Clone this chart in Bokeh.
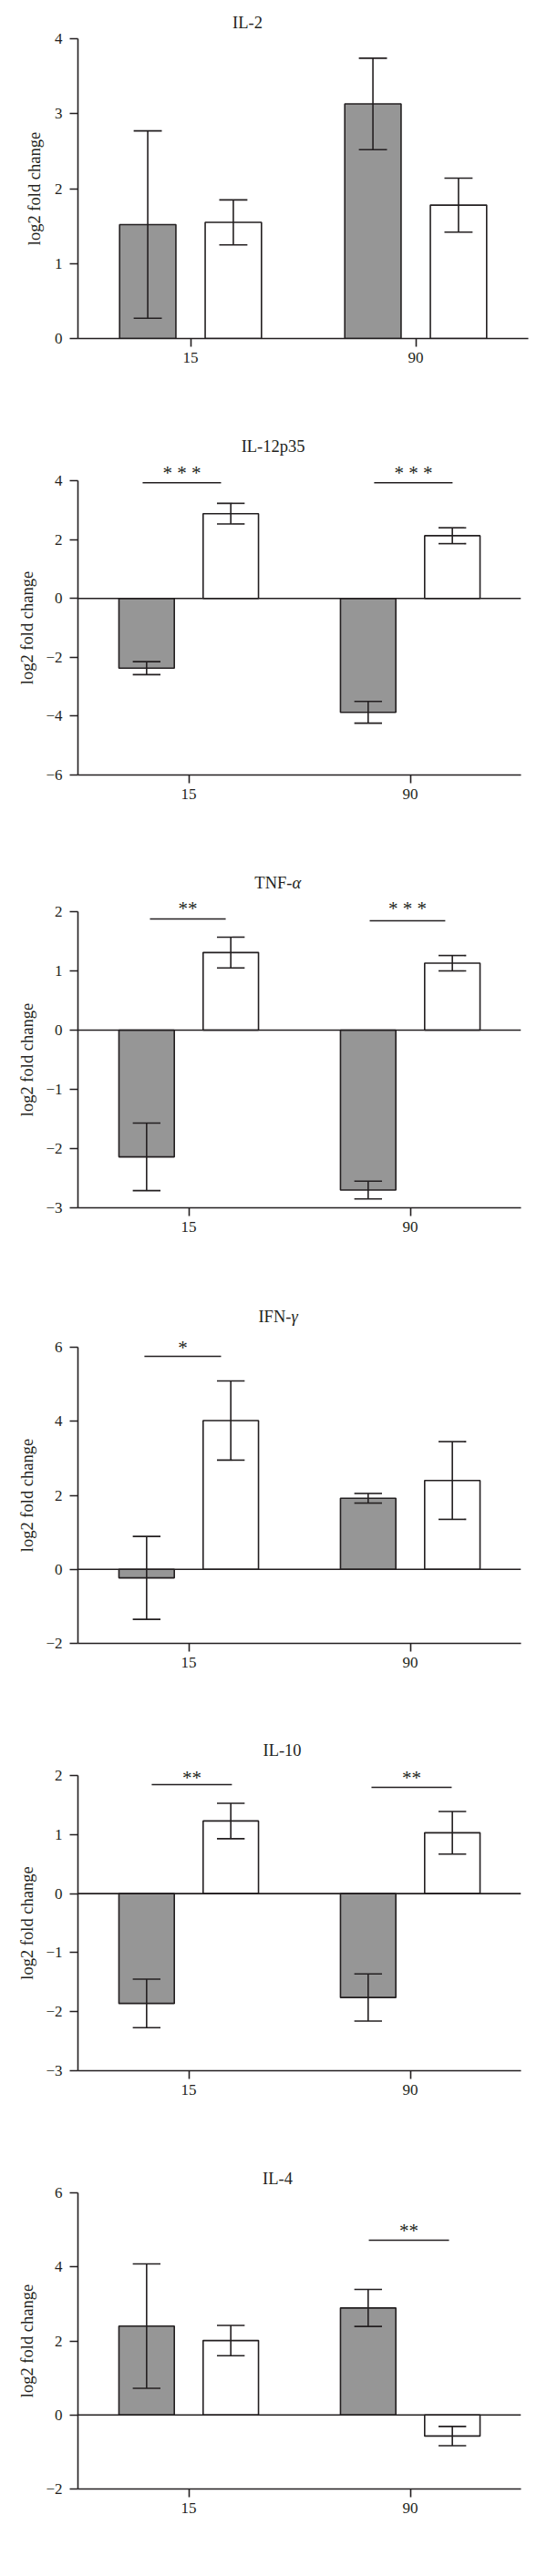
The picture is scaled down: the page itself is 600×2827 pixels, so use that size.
from bokeh.plotting import figure
from bokeh.layouts import column
from bokeh.models import Range1d, FixedTicker, Span, Label, Title
from bokeh.embed import file_html
from bokeh.resources import INLINE

# ---------------- data ----------------
categories = ["15", "90"]

il2_gray = [1.52, 3.13]
il2_gray_err = [1.25, 0.61]
il2_white = [1.55, 1.78]
il2_white_err = [0.30, 0.36]

il12_gray = [-2.37, -3.87]
il12_gray_err = [0.22, 0.37]
il12_white = [2.88, 2.13]
il12_white_err = [0.35, 0.27]

tnf_gray = [-2.14, -2.70]
tnf_gray_err = [0.57, 0.15]
tnf_white = [1.31, 1.13]
tnf_white_err = [0.26, 0.13]

ifn_gray = [-0.23, 1.92]
ifn_gray_err = [1.12, 0.13]
ifn_white = [4.02, 2.40]
ifn_white_err = [1.07, 1.05]

il10_gray = [-1.86, -1.76]
il10_gray_err = [0.41, 0.40]
il10_white = [1.23, 1.03]
il10_white_err = [0.30, 0.36]

il4_gray = [2.40, 2.89]
il4_gray_err = [1.68, 0.50]
il4_white = [2.01, -0.57]
il4_white_err = [0.41, 0.26]

titles = ["IL-2", "IL-12p35", "TNF-", "IFN-", "IL-10", "IL-4"]
titles_greek = ["", "", "α", "γ", "", ""]
y_label = "log2 fold change"

y_ticks = [
    [0, 1, 2, 3, 4],
    [-6, -4, -2, 0, 2, 4],
    [-3, -2, -1, 0, 1, 2],
    [-2, 0, 2, 4, 6],
    [-3, -2, -1, 0, 1, 2],
    [-2, 0, 2, 4, 6],
]

# significance brackets: (x0, x1, line_y, star_y, stars)
sig_marks = [
    [],
    [(-0.208, 0.146, 3.93, 4.27, "* * *"), (0.837, 1.191, 3.93, 4.27, "* * *")],
    [(-0.175, 0.167, 1.877, 2.06, "**"), (0.817, 1.158, 1.846, 2.06, "* * *")],
    [(-0.200, 0.146, 5.754, 6.0, "*")],
    [(-0.167, 0.195, 1.846, 1.954, "**"), (0.825, 1.187, 1.80, 1.954, "**")],
    [(0.813, 1.175, 4.72, 4.97, "**")],
]

# ---------------- style / layout ----------------
FONT = "Liberation Serif"
INK = "#231f20"
GRAY = "#969696"
BAR_OFF = 0.19
BAR_W = 0.25
CAP = 0.125
LABEL_PX = 18.5
LABEL_LEN = 6.72 * LABEL_PX   # approx. rendered length of the y label

# page pixel layout of each panel
layouts = [
    dict(ml=78, fw=494, top=8, tick_top=50, tick_bot=379, next_top=460, title_py=32, title_x=0.253, lab_standoff=18),
    dict(ml=85, fw=486, top=460, tick_top=535, tick_bot=858, next_top=940, title_py=497.7, title_x=0.381, lab_standoff=15),
    dict(ml=85, fw=486, top=940, tick_top=1008, tick_bot=1333, next_top=1415, title_py=976, title_x=0.401, lab_standoff=15),
    dict(ml=85, fw=486, top=1415, tick_top=1486, tick_bot=1811, next_top=1895, title_py=1452, title_x=0.405, lab_standoff=15),
    dict(ml=85, fw=486, top=1895, tick_top=1956, tick_bot=2280, next_top=2360, title_py=1928, title_x=0.422, lab_standoff=15),
    dict(ml=85, fw=486, top=2360, tick_top=2414, tick_bot=2739, next_top=2819, title_py=2398, title_x=0.401, lab_standoff=15),
]

panels = [
    (il2_gray, il2_gray_err, il2_white, il2_white_err),
    (il12_gray, il12_gray_err, il12_white, il12_white_err),
    (tnf_gray, tnf_gray_err, tnf_white, tnf_white_err),
    (ifn_gray, ifn_gray_err, ifn_white, ifn_white_err),
    (il10_gray, il10_gray_err, il10_white, il10_white_err),
    (il4_gray, il4_gray_err, il4_white, il4_white_err),
]


def fmt(t):
    return ("\u2212" + str(-t)) if t < 0 else str(t)


figs = []
for k, (g, ge, w, we) in enumerate(panels):
    L = layouts[k]
    ticks = y_ticks[k]
    lo, hi = ticks[0], ticks[-1]
    ppu = (L["tick_bot"] - L["tick_top"]) / (hi - lo)
    y_end = hi + (L["tick_top"] - L["top"]) / ppu
    fh = L["tick_bot"] - L["top"]
    p = figure(
        title=None,
        frame_width=L["fw"], frame_height=fh,
        min_border_left=L["ml"], min_border_right=584 - L["ml"] - L["fw"],
        min_border_top=0, min_border_bottom=L["next_top"] - L["tick_bot"],
        x_range=Range1d(-0.5, 1.5), y_range=Range1d(lo, y_end),
        output_backend="svg", toolbar_location=None, tools="",
    )
    p.outline_line_color = None
    p.grid.visible = False
    p.background_fill_color = "white"
    p.border_fill_color = "white"

    idx = list(range(len(categories)))
    xg = [i - BAR_OFF for i in idx]
    xw = [i + BAR_OFF for i in idx]

    if lo < 0:
        p.add_layout(Span(location=0, dimension="width", line_color=INK, line_width=1.6))

    for xs, vals, errs, col in ((xg, g, ge, GRAY), (xw, w, we, "white")):
        p.vbar(x=xs, top=vals, bottom=0, width=BAR_W, fill_color=col,
               line_color=INK, line_width=1.6)
        ylo = [v - e for v, e in zip(vals, errs)]
        yhi = [v + e for v, e in zip(vals, errs)]
        p.segment(x0=xs, y0=ylo, x1=xs, y1=yhi, line_color=INK, line_width=1.6)
        p.segment(x0=[x - CAP / 2 for x in xs], y0=ylo, x1=[x + CAP / 2 for x in xs], y1=ylo,
                  line_color=INK, line_width=1.6)
        p.segment(x0=[x - CAP / 2 for x in xs], y0=yhi, x1=[x + CAP / 2 for x in xs], y1=yhi,
                  line_color=INK, line_width=1.6)

    # significance
    for (x0, x1, ly, sy, stars) in sig_marks[k]:
        p.segment(x0=[x0], y0=[ly], x1=[x1], y1=[ly], line_color=INK, line_width=1.5)
        p.add_layout(Label(x=(x0 + x1) / 2, y=sy, text=stars, text_align="center",
                           text_baseline="middle", text_font=FONT, text_font_size="21px",
                           text_color=INK))

    # panel title (inside the frame, above the axis top)
    title_y = hi + (L["tick_top"] - L["title_py"]) / ppu
    if titles_greek[k]:
        shift = 16 if titles_greek[k] == "α" else 14
        p.add_layout(Label(x=L["title_x"], y=title_y, text=titles[k], text_align="right",
                           text_baseline="middle", text_font=FONT, text_font_size="18.5px",
                           text_color=INK, x_offset=shift))
        p.add_layout(Label(x=L["title_x"], y=title_y, text=titles_greek[k], text_align="left",
                           text_baseline="middle", text_font=FONT, text_font_size="18.5px",
                           text_font_style="italic", text_color=INK, x_offset=shift))
    else:
        p.add_layout(Label(x=L["title_x"], y=title_y, text=titles[k], text_align="center",
                           text_baseline="middle", text_font=FONT, text_font_size="18.5px",
                           text_color=INK))

    xa = p.xaxis[0]
    xa.ticker = FixedTicker(ticks=idx)
    xa.major_label_overrides = {i: c for i, c in zip(idx, categories)}
    ya = p.yaxis[0]
    ya.ticker = FixedTicker(ticks=ticks)
    ya.major_label_overrides = {t: fmt(t) for t in ticks}
    ya.bounds = (lo, hi)
    for ax in (xa, ya):
        ax.axis_line_color = INK
        ax.axis_line_width = 1.6
        ax.major_tick_line_color = INK
        ax.major_tick_line_width = 1.6
        ax.major_tick_out = 9
        ax.major_tick_in = 0
        ax.minor_tick_out = 0
        ax.minor_tick_in = 0
        ax.major_label_text_font = FONT
        ax.major_label_text_font_size = "17px"
        ax.major_label_text_color = INK
    xa.major_label_standoff = 6
    ya.major_label_standoff = 8

    # y-axis label as a left-side title, centred on the tick span
    span_px = L["tick_bot"] - L["tick_top"]
    p.add_layout(Title(text=y_label, align="left",
                       offset=span_px / 2 - LABEL_LEN / 2,
                       text_font=FONT, text_font_size=f"{LABEL_PX}px", text_font_style="normal",
                       text_color=INK, standoff=L["lab_standoff"]), "left")
    figs.append(p)

layout = column(*figs, spacing=0)
open("out.html", "w").write(file_html(layout, INLINE))
